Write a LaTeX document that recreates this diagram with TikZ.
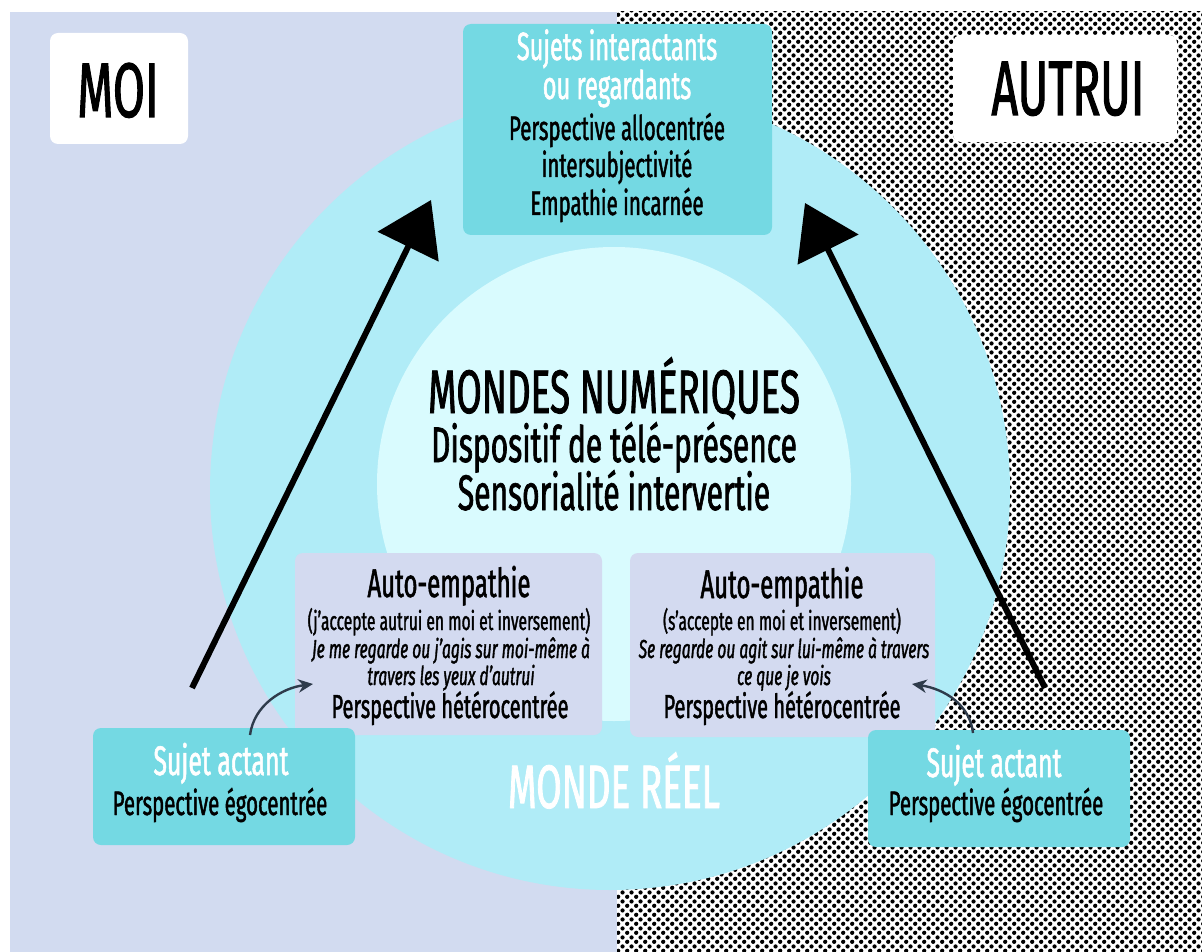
\documentclass[tikz,border=0pt]{standalone}
\usepackage{fontspec}
\setmainfont{Fira Sans}[FakeStretch=0.6, FakeBold=1.3]
\usetikzlibrary{arrows.meta,patterns,fit}
\pgfdeclarepatternformonly{halftone}{\pgfqpoint{0pt}{0pt}}{\pgfqpoint{7pt}{7pt}}{\pgfqpoint{7pt}{7pt}}{%
  \pgfpathcircle{\pgfqpoint{1.75pt}{1.75pt}}{1.7pt}%
  \pgfpathcircle{\pgfqpoint{5.25pt}{5.25pt}}{1.7pt}%
  \pgfusepath{fill}}
\definecolor{lav}{HTML}{D2DBF0}
\definecolor{cyanA}{HTML}{B0ECF7}
\definecolor{cyanB}{HTML}{D9FBFE}
\definecolor{turq}{HTML}{74D9E3}
\definecolor{boxlav}{HTML}{D3DAF0}
\definecolor{arrowgray}{HTML}{2E3B4B}
\newcommand\myfs[2]{\fontsize{#1}{#2}\selectfont}
\begin{document}
\begin{tikzpicture}[x=0.75pt,y=-0.75pt,
  box/.style={rounded corners=6pt, inner sep=0pt, draw=none},
  txt/.style={anchor=base, inner sep=0pt, align=center},
  bigarrow/.style={line width=4.5pt, -{Triangle[length=39pt,width=50pt]}},
  smallarrow/.style={line width=1.8pt, draw=arrowgray, -{Stealth[length=11pt,width=10pt]}}]
\useasboundingbox (0,0) rectangle (1202,952);
\fill[white] (0,0) rectangle (1202,952);
\fill[lav] (10,12) rectangle (617,952);
\fill[pattern=halftone] (617,12) rectangle (1202,952);
% circles
\fill[cyanA] (610,490) circle[radius=300pt];
\fill[cyanB] (614,484) circle[radius=177.75pt];
% label boxes
\node[box, fill=white, fit={(50,33) (188,144)}] (moibox) {};
\node[box, fill=white, fit={(953,35) (1177,142)}] (autruibox) {};
\node[txt, font=\myfs{58}{64}] (moi) at (118,117) {MOI};
\node[txt, font=\myfs{58}{64}] (autrui) at (1068,115) {AUTRUI};
% top box
\node[box, fill=turq, fit={(463,24) (772,235)}] (top) {};
\node[txt, white, font=\myfs{29.5}{34}] (t1) at (617,60) {Sujets interactants};
\node[txt, white, font=\myfs{29.5}{34}] (t2) at (617,99) {ou regardants};
\node[txt, font=\myfs{25.5}{29}] (t3) at (617,140) {Perspective allocentrée};
\node[txt, font=\myfs{25.5}{29}] (t4) at (617,177) {intersubjectivité};
\node[txt, font=\myfs{25.5}{29}] (t5) at (617,215) {Empathie incarnée};
% center text
\node[txt, font=\myfs{46}{50}] (m1) at (614,413) {MONDES NUMÉRIQUES};
\node[txt, font=\myfs{37.5}{40}] (m2) at (614,462) {Dispositif de télé-présence};
\node[txt, font=\myfs{37.5}{40}] (m3) at (614,510) {Sensorialité intervertie};
% auto-empathie boxes
\node[box, fill=boxlav, fit={(295,553) (602,735)}] (autoL) {};
\node[box, fill=boxlav, fit={(630,553) (935,737)}] (autoR) {};
\node[txt, font=\myfs{30}{34}] (aL1) at (449,597) {Auto-empathie};
\node[txt, font=\myfs{19.5}{22}] (aL2) at (449,630) {(j'accepte autrui en moi et inversement)};
\node[txt, font=\myfs{19.5}{22}\itshape] (aL3) at (451,658) {Je me regarde ou j'agis sur moi-même à};
\node[txt, font=\myfs{19.5}{22}\itshape] (aL4) at (451,685) {travers les yeux d'autrui};
\node[txt, font=\myfs{25}{29}] (aL5) at (450,718) {Perspective hétérocentrée};
\node[txt, font=\myfs{30}{34}] (aR1) at (782,598) {Auto-empathie};
\node[txt, font=\myfs{19.5}{22}] (aR2) at (782,630) {(s'accepte en moi et inversement)};
\node[txt, font=\myfs{19.5}{22}\itshape] (aR3) at (784,658) {Se regarde ou agit sur lui-même à travers};
\node[txt, font=\myfs{19.5}{22}\itshape] (aR4) at (784,685) {ce que je vois};
\node[txt, font=\myfs{25}{29}] (aR5) at (782,718) {Perspective hétérocentrée};
% monde reel
\node[txt, white, font=\myfs{46}{50}] (reel) at (614,808) {MONDE RÉEL};
% sujet actant boxes
\node[box, fill=turq, fit={(93,728) (355,845)}] (sujL) {};
\node[box, fill=turq, fit={(868,730) (1130,847)}] (sujR) {};
\node[txt, white, font=\myfs{31}{34}] (sL1) at (221,775) {Sujet actant};
\node[txt, font=\myfs{25.5}{29}] (sL2) at (220,815) {Perspective égocentrée};
\node[txt, white, font=\myfs{31}{34}] (sR1) at (994,777) {Sujet actant};
\node[txt, font=\myfs{25.5}{29}] (sR2) at (996,815) {Perspective égocentrée};
% big arrows
\coordinate (bLs) at (192,688);
\coordinate (bLe) at (431,200);
\coordinate (bRs) at (1045,688);
\coordinate (bRe) at (805,203);
\draw[bigarrow] (bLs) -- (bLe);
\draw[bigarrow] (bRs) -- (bRe);
% small curved arrows
\coordinate (cLs) at (250,735);
\coordinate (cLe) at (313,684);
\coordinate (cRs) at (973,733);
\coordinate (cRe) at (912,684);
\draw[smallarrow] (cLs) .. controls (254,705) and (282,688) .. (cLe);
\draw[smallarrow] (cRs) .. controls (970,705) and (945,689) .. (cRe);
\end{tikzpicture}
\end{document}
